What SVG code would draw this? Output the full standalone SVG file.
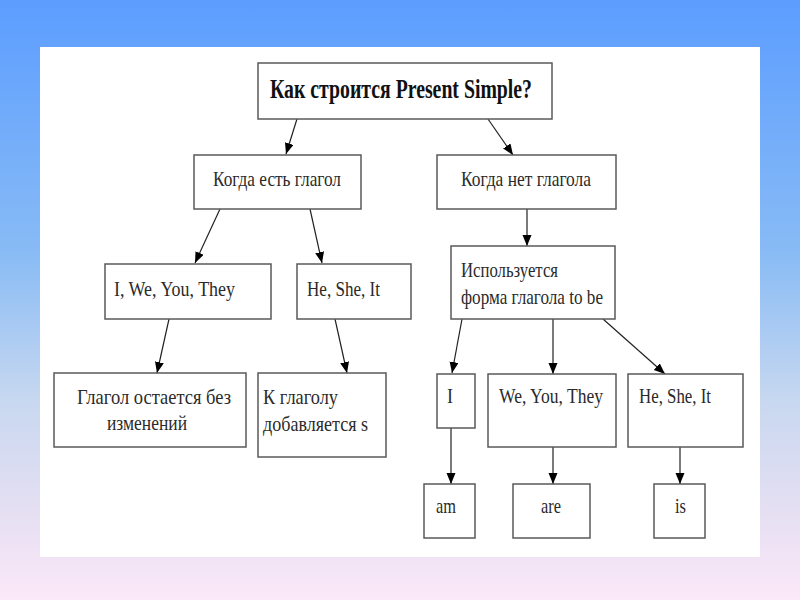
<svg xmlns="http://www.w3.org/2000/svg" width="800" height="600" viewBox="0 0 800 600">
<defs>
<linearGradient id="bg" x1="0" y1="0" x2="0" y2="1">
<stop offset="0" stop-color="#5c9dff"/>
<stop offset="0.42" stop-color="#88bbf5"/>
<stop offset="0.67" stop-color="#c8d8f0"/>
<stop offset="0.87" stop-color="#e8e0f3"/>
<stop offset="1" stop-color="#fbe8f8"/>
</linearGradient>
<marker id="ah" markerUnits="userSpaceOnUse" markerWidth="12" markerHeight="10" refX="11" refY="4.5" orient="auto">
<path d="M0,0 L11,4.5 L0,9 z" fill="#000"/>
</marker>
<style>
.box{fill:#fff;stroke:#5a5a5a;stroke-width:1.5}
.t{font-family:"Liberation Serif","Times New Roman",serif;font-size:22px;fill:#2a2a2a}
.tb{font-family:"Liberation Serif","Times New Roman",serif;font-size:28px;font-weight:bold;fill:#111}
.c{stroke:#222;stroke-width:1.2;fill:none;marker-end:url(#ah)}
</style>
</defs>
<rect width="800" height="600" fill="url(#bg)"/>
<rect x="40" y="47" width="720" height="510" fill="#fff"/>
<g id="connectors">
<line class="c" x1="297" y1="119" x2="286" y2="154"/>
<line class="c" x1="488" y1="119" x2="513" y2="155"/>
<line class="c" x1="220" y1="209" x2="195" y2="263"/>
<line class="c" x1="310" y1="209" x2="322" y2="263"/>
<line class="c" x1="169" y1="319" x2="157" y2="373"/>
<line class="c" x1="335" y1="319" x2="347" y2="373"/>
<line class="c" x1="527" y1="209" x2="527" y2="246"/>
<line class="c" x1="462" y1="319" x2="452" y2="373"/>
<line class="c" x1="553" y1="319" x2="553" y2="374"/>
<line class="c" x1="603" y1="319" x2="665" y2="374"/>
<line class="c" x1="451" y1="428" x2="451" y2="484"/>
<line class="c" x1="553" y1="447" x2="553" y2="484"/>
<line class="c" x1="680" y1="447" x2="680" y2="484"/>
</g>
<g id="n-title">
<rect class="box" x="258" y="63" width="294" height="56"/>
<text class="tb" x="270" y="98" textLength="262" lengthAdjust="spacingAndGlyphs">Как строится Present Simple?</text>
</g>
<g id="n-verb">
<rect class="box" x="194" y="155" width="167" height="54"/>
<text class="t" x="213" y="186" textLength="128" lengthAdjust="spacingAndGlyphs">Когда есть глагол</text>
</g>
<g id="n-noverb">
<rect class="box" x="437" y="155" width="179" height="54"/>
<text class="t" x="461" y="186" textLength="130" lengthAdjust="spacingAndGlyphs">Когда нет глагола</text>
</g>
<g id="n-iwe">
<rect class="box" x="105" y="264" width="166" height="55"/>
<text class="t" x="114" y="296" textLength="121" lengthAdjust="spacingAndGlyphs">I, We, You, They</text>
</g>
<g id="n-heshe">
<rect class="box" x="297" y="264" width="114" height="55"/>
<text class="t" x="307" y="296" textLength="73" lengthAdjust="spacingAndGlyphs">He, She, It</text>
</g>
<g id="n-same">
<rect class="box" x="54" y="373" width="192" height="74"/>
<text class="t" x="77" y="404" textLength="154" lengthAdjust="spacingAndGlyphs">Глагол остается без</text>
<text class="t" x="107" y="430" textLength="80" lengthAdjust="spacingAndGlyphs">изменений</text>
</g>
<g id="n-adds">
<rect class="box" x="258" y="373" width="128" height="84"/>
<text class="t" x="263" y="404" textLength="75" lengthAdjust="spacingAndGlyphs">К глаголу</text>
<text class="t" x="263" y="431" textLength="105" lengthAdjust="spacingAndGlyphs">добавляется s</text>
</g>
<g id="n-tobe">
<rect class="box" x="451" y="246" width="164" height="73"/>
<text class="t" x="461" y="277" textLength="97" lengthAdjust="spacingAndGlyphs">Используется</text>
<text class="t" x="461" y="304" textLength="142" lengthAdjust="spacingAndGlyphs">форма глагола to be</text>
</g>
<g id="n-i">
<rect class="box" x="437" y="374" width="38" height="54"/>
<text class="t" x="447" y="403" textLength="6" lengthAdjust="spacingAndGlyphs">I</text>
</g>
<g id="n-weyou">
<rect class="box" x="488" y="374" width="128" height="73"/>
<text class="t" x="499" y="403" textLength="104" lengthAdjust="spacingAndGlyphs">We, You, They</text>
</g>
<g id="n-he">
<rect class="box" x="628" y="374" width="115" height="73"/>
<text class="t" x="639" y="403" textLength="72" lengthAdjust="spacingAndGlyphs">He, She, It</text>
</g>
<g id="n-am">
<rect class="box" x="424" y="484" width="51" height="54"/>
<text class="t" x="436" y="513" textLength="20" lengthAdjust="spacingAndGlyphs">am</text>
</g>
<g id="n-are">
<rect class="box" x="513" y="484" width="77" height="54"/>
<text class="t" x="541" y="513" textLength="20" lengthAdjust="spacingAndGlyphs">are</text>
</g>
<g id="n-is">
<rect class="box" x="654" y="484" width="51" height="54"/>
<text class="t" x="675" y="513" textLength="11" lengthAdjust="spacingAndGlyphs">is</text>
</g>
</svg>
